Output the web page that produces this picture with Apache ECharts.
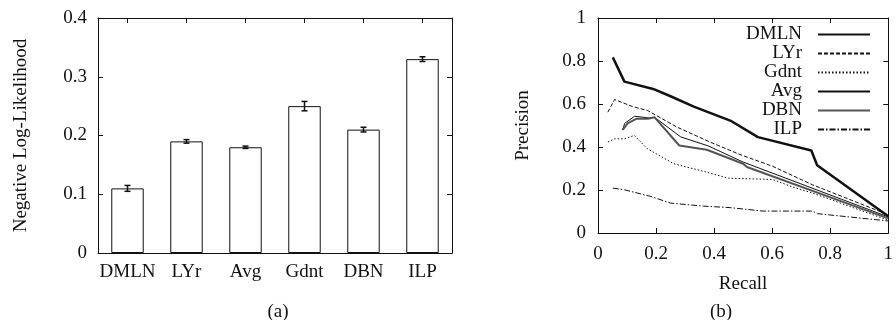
<!DOCTYPE html>
<html>
<head>
<meta charset="utf-8">
<script src="https://cdn.jsdelivr.net/npm/echarts@6/dist/echarts.min.js"></script>
<style>
  html, body { margin: 0; padding: 0; background: #fff; }
  #chart { width: 896px; height: 320px; }
</style>
</head>
<body>
<div id="chart"></div>
<script>
// (a) negative log-likelihood per method
const categories = ['DMLN', 'LYr', 'Avg', 'Gdnt', 'DBN', 'ILP'];
const nllMean = [0.11, 0.19, 0.18, 0.25, 0.21, 0.33];
const nllErr = [0.005, 0.003, 0.002, 0.008, 0.004, 0.004];

// (b) precision-recall curves, [recall, precision]
const prDMLN = [[0.051, 0.817], [0.091, 0.704], [0.19, 0.67], [0.25, 0.636], [0.33, 0.588], [0.46, 0.52], [0.551, 0.446], [0.735, 0.384], [0.755, 0.315], [1.0, 0.078]];
const prLYr = [[0.034, 0.562], [0.057, 0.621], [0.119, 0.588], [0.17, 0.57], [0.273, 0.492], [0.386, 0.423], [0.489, 0.365], [0.602, 0.31], [0.739, 0.224], [1.0, 0.085]];
const prGdnt = [[0.034, 0.423], [0.057, 0.438], [0.091, 0.438], [0.125, 0.454], [0.17, 0.392], [0.261, 0.322], [0.352, 0.291], [0.449, 0.255], [0.602, 0.249], [0.67, 0.214], [0.739, 0.186], [1.0, 0.059]];
const prAvg = [[0.085, 0.48], [0.092, 0.51], [0.126, 0.543], [0.177, 0.535], [0.195, 0.538], [0.285, 0.447], [0.38, 0.405], [0.5, 0.33], [1.0, 0.075]];
const prDBN = [[0.085, 0.48], [0.103, 0.511], [0.132, 0.531], [0.172, 0.531], [0.195, 0.538], [0.28, 0.407], [0.375, 0.387], [0.5, 0.322], [0.513, 0.307], [1.0, 0.068]];
const prILP = [[0.051, 0.209], [0.091, 0.201], [0.182, 0.17], [0.25, 0.139], [0.364, 0.125], [0.455, 0.118], [0.568, 0.102], [0.739, 0.102], [0.756, 0.09], [1.0, 0.056]];

const FONT = '"Liberation Serif", "Times New Roman", serif';
const INK = '#111';

const chart = echarts.init(document.getElementById('chart'), null, { renderer: 'canvas' });

// plain framed axis, ticks pointing in
function frameAxis(extra) {
  return Object.assign({
    axisLine: { show: true, onZero: false, lineStyle: { color: INK, width: 1 } },
    axisTick: { show: true, inside: true, length: 5, lineStyle: { color: INK } },
    axisLabel: { color: INK, fontFamily: FONT, fontSize: 19 },
    splitLine: { show: false },
    nameTextStyle: { color: INK, fontFamily: FONT, fontSize: 19 }
  }, extra);
}

const lineBase = { type: 'line', xAxisIndex: 2, yAxisIndex: 2, showSymbol: false, symbol: 'none', animation: false };

const option = {
  animation: false,
  backgroundColor: '#fff',
  textStyle: { fontFamily: FONT },
  grid: [
    { left: 98, top: 18, width: 354, height: 235 },
    { left: 598, top: 18, width: 293, height: 215 }
  ],
  xAxis: [
    frameAxis({ type: 'category', gridIndex: 0, data: categories, position: 'bottom',
      axisTick: { show: true, inside: true, length: 5, alignWithLabel: true, lineStyle: { color: INK } },
      axisLabel: { color: INK, fontFamily: FONT, fontSize: 19, margin: 10, interval: 0 } }),
    frameAxis({ type: 'category', gridIndex: 0, data: categories, position: 'top',
      axisTick: { show: true, inside: true, length: 5, alignWithLabel: true, interval: 0, lineStyle: { color: INK } },
      axisLabel: { show: false, interval: 0 } }),
    frameAxis({ type: 'value', gridIndex: 1, min: 0, max: 1, interval: 0.2, position: 'bottom',
      name: 'Recall', nameLocation: 'middle', nameGap: 42,
      axisLabel: { color: INK, fontFamily: FONT, fontSize: 19, margin: 12 } }),
    frameAxis({ type: 'value', gridIndex: 1, min: 0, max: 1, interval: 0.2, position: 'top',
      axisLabel: { show: false } })
  ],
  yAxis: [
    frameAxis({ type: 'value', gridIndex: 0, min: 0, max: 0.4, interval: 0.1, position: 'left',
      name: 'Negative Log-Likelihood', nameLocation: 'middle', nameGap: 67,
      axisLabel: { color: INK, fontFamily: FONT, fontSize: 19, margin: 11 } }),
    frameAxis({ type: 'value', gridIndex: 0, min: 0, max: 0.4, interval: 0.1, position: 'right',
      axisLabel: { show: false } }),
    frameAxis({ type: 'value', gridIndex: 1, min: 0, max: 1, interval: 0.2, position: 'left',
      name: 'Precision', nameLocation: 'middle', nameGap: 65,
      axisLabel: { color: INK, fontFamily: FONT, fontSize: 19, margin: 12 } }),
    frameAxis({ type: 'value', gridIndex: 1, min: 0, max: 1, interval: 0.2, position: 'right',
      axisLabel: { show: false } })
  ],
  legend: {
    orient: 'vertical',
    right: 20,
    top: 20,
    align: 'right',
    itemWidth: 52,
    itemHeight: 14,
    itemGap: 0,
    itemStyle: { opacity: 0 },
    data: ['DMLN', 'LYr', 'Gdnt', 'Avg', 'DBN', 'ILP'],
    textStyle: { color: INK, fontFamily: FONT, fontSize: 19, lineHeight: 19, width: 62, align: 'right', padding: [0, 11, 0, 0] }
  },
  graphic: [
    { type: 'text', x: 278, y: 312, style: { text: '(a)', fill: INK, fontFamily: FONT, fontSize: 19, textAlign: 'center', textVerticalAlign: 'middle' } },
    { type: 'text', x: 721, y: 312, style: { text: '(b)', fill: INK, fontFamily: FONT, fontSize: 19, textAlign: 'center', textVerticalAlign: 'middle' } }
  ],
  series: [
    {
      type: 'bar', xAxisIndex: 0, yAxisIndex: 0, data: nllMean, barWidth: '55%',
      itemStyle: { color: '#fff', borderColor: INK, borderWidth: 1 }, z: 3
    },
    {
      type: 'custom', xAxisIndex: 0, yAxisIndex: 0, z: 4,
      data: nllMean.map((v, i) => [i, v - nllErr[i], v + nllErr[i]]),
      renderItem: function (params, api) {
        const lo = api.coord([api.value(0), api.value(1)]);
        const hi = api.coord([api.value(0), api.value(2)]);
        const w = 3;
        const st = { stroke: INK, lineWidth: 1.5 };
        return {
          type: 'group',
          children: [
            { type: 'line', shape: { x1: lo[0], y1: lo[1], x2: hi[0], y2: hi[1] }, style: st },
            { type: 'line', shape: { x1: lo[0] - w, y1: lo[1], x2: lo[0] + w, y2: lo[1] }, style: st },
            { type: 'line', shape: { x1: hi[0] - w, y1: hi[1], x2: hi[0] + w, y2: hi[1] }, style: st }
          ]
        };
      }
    },
    Object.assign({}, lineBase, { name: 'DMLN', data: prDMLN, lineStyle: { color: INK, width: 2.5 }, itemStyle: { color: INK } }),
    Object.assign({}, lineBase, { name: 'LYr', data: prLYr, lineStyle: { color: INK, width: 1, type: [4, 2] }, itemStyle: { color: INK } }),
    Object.assign({}, lineBase, { name: 'Gdnt', data: prGdnt, lineStyle: { color: INK, width: 1, type: [1.5, 2] }, itemStyle: { color: INK } }),
    Object.assign({}, lineBase, { name: 'Avg', data: prAvg, lineStyle: { color: INK, width: 1 }, itemStyle: { color: INK } }),
    Object.assign({}, lineBase, { name: 'DBN', data: prDBN, lineStyle: { color: '#555', width: 2 }, itemStyle: { color: '#555' } }),
    Object.assign({}, lineBase, { name: 'ILP', data: prILP, lineStyle: { color: INK, width: 1, type: [6, 2, 1.5, 2] }, itemStyle: { color: INK } })
  ]
};

chart.setOption(option);
</script>
</body>
</html>
